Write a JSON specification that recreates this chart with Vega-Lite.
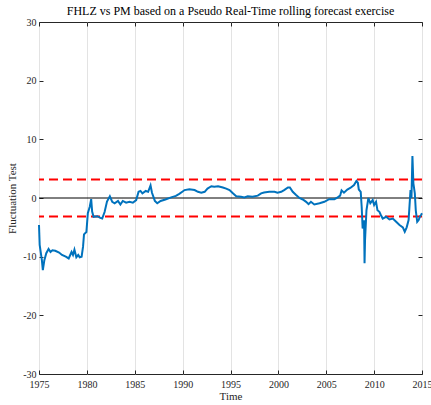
{
  "$schema": "https://vega.github.io/schema/vega-lite/v6.json",
  "width": 383,
  "height": 352,
  "autosize": "none",
  "padding": {"left": 39, "top": 22, "right": 9, "bottom": 31},
  "background": "white",
  "title": {"text": "FHLZ vs PM based on a Pseudo Real-Time rolling forecast exercise", "font": "Liberation Serif", "fontSize": 12, "fontWeight": "normal", "color": "#000000", "offset": 0, "dy": 1},
  "config": {
    "view": {"stroke": "#262626", "strokeWidth": 1},
    "axis": {
      "domainColor": "#262626", "domainWidth": 1,
      "tickColor": "#262626", "tickSize": -4,
      "gridColor": "#e3e3e3", "gridOpacity": 1, "gridWidth": 1,
      "labelFlush": false, "labelOverlap": false,
      "labelFont": "Liberation Serif", "labelFontSize": 10, "labelColor": "#262626",
      "titleFont": "Liberation Serif", "titleFontSize": 11, "titleFontWeight": "normal", "titleColor": "#262626"
    }
  },
  "datasets": {
    "series": [
      {"year": 1975.0, "val": -4.6}, {"year": 1975.07, "val": -8.0}, {"year": 1975.3, "val": -10.6}, {"year": 1975.4, "val": -12.3},
      {"year": 1975.56, "val": -10.6}, {"year": 1975.76, "val": -9.4}, {"year": 1976.0, "val": -8.7}, {"year": 1976.2, "val": -9.2},
      {"year": 1976.4, "val": -8.9}, {"year": 1976.7, "val": -9.0}, {"year": 1977.1, "val": -9.3}, {"year": 1977.4, "val": -9.7},
      {"year": 1977.8, "val": -10.0}, {"year": 1978.1, "val": -10.3}, {"year": 1978.4, "val": -9.2}, {"year": 1978.55, "val": -9.7},
      {"year": 1978.7, "val": -8.8}, {"year": 1978.9, "val": -10.1}, {"year": 1979.1, "val": -9.7}, {"year": 1979.25, "val": -10.1},
      {"year": 1979.45, "val": -10.0}, {"year": 1979.6, "val": -8.3}, {"year": 1979.7, "val": -6.2}, {"year": 1979.95, "val": -5.8},
      {"year": 1980.1, "val": -2.6}, {"year": 1980.3, "val": -1.5}, {"year": 1980.45, "val": -0.2}, {"year": 1980.55, "val": -2.3},
      {"year": 1980.7, "val": -3.2}, {"year": 1981.1, "val": -3.1}, {"year": 1981.4, "val": -3.4}, {"year": 1981.6, "val": -3.5},
      {"year": 1981.85, "val": -2.4}, {"year": 1982.1, "val": -0.6}, {"year": 1982.4, "val": 0.3}, {"year": 1982.65, "val": -0.65},
      {"year": 1982.9, "val": -0.9}, {"year": 1983.25, "val": -0.5}, {"year": 1983.5, "val": -1.1}, {"year": 1983.75, "val": -0.5},
      {"year": 1984.1, "val": -0.8}, {"year": 1984.45, "val": -0.65}, {"year": 1984.8, "val": -0.8}, {"year": 1985.15, "val": -0.35},
      {"year": 1985.4, "val": 1.05}, {"year": 1985.6, "val": 1.2}, {"year": 1985.8, "val": 0.8}, {"year": 1986.15, "val": 1.2},
      {"year": 1986.4, "val": 1.05}, {"year": 1986.65, "val": 2.15}, {"year": 1986.8, "val": 0.9}, {"year": 1987.1, "val": -0.5},
      {"year": 1987.35, "val": -0.9}, {"year": 1987.7, "val": -0.5}, {"year": 1988.2, "val": -0.25}, {"year": 1988.8, "val": 0.1},
      {"year": 1989.3, "val": 0.35}, {"year": 1989.65, "val": 0.7}, {"year": 1990.0, "val": 1.1}, {"year": 1990.2, "val": 1.35},
      {"year": 1990.7, "val": 1.5}, {"year": 1991.25, "val": 1.35}, {"year": 1991.6, "val": 1.05}, {"year": 1991.95, "val": 0.9},
      {"year": 1992.3, "val": 1.05}, {"year": 1992.6, "val": 1.6}, {"year": 1993.0, "val": 2.0}, {"year": 1993.3, "val": 1.9},
      {"year": 1993.7, "val": 2.0}, {"year": 1994.2, "val": 1.8}, {"year": 1994.55, "val": 1.6}, {"year": 1994.9, "val": 1.35},
      {"year": 1995.25, "val": 0.8}, {"year": 1995.6, "val": 0.3}, {"year": 1996.1, "val": 0.2}, {"year": 1996.45, "val": 0.1},
      {"year": 1996.8, "val": 0.3}, {"year": 1997.3, "val": 0.2}, {"year": 1997.85, "val": 0.4}, {"year": 1998.2, "val": 0.8},
      {"year": 1998.5, "val": 0.95}, {"year": 1999.05, "val": 1.05}, {"year": 1999.6, "val": 1.05}, {"year": 1999.9, "val": 0.9},
      {"year": 2000.3, "val": 1.05}, {"year": 2000.6, "val": 1.35}, {"year": 2001.0, "val": 1.8}, {"year": 2001.2, "val": 1.8},
      {"year": 2001.5, "val": 1.05}, {"year": 2001.85, "val": 0.5}, {"year": 2002.2, "val": 0.0}, {"year": 2002.55, "val": -0.25},
      {"year": 2002.9, "val": -0.65}, {"year": 2003.15, "val": -1.05}, {"year": 2003.4, "val": -0.65}, {"year": 2003.75, "val": -1.1},
      {"year": 2004.3, "val": -0.9}, {"year": 2004.8, "val": -0.65}, {"year": 2005.3, "val": -0.2}, {"year": 2005.85, "val": -0.2},
      {"year": 2006.2, "val": 0.1}, {"year": 2006.45, "val": 0.4}, {"year": 2006.6, "val": 1.3}, {"year": 2006.85, "val": 0.9},
      {"year": 2007.2, "val": 1.45}, {"year": 2007.55, "val": 1.75}, {"year": 2007.9, "val": 2.2}, {"year": 2008.15, "val": 2.9},
      {"year": 2008.3, "val": 2.6}, {"year": 2008.4, "val": 1.45}, {"year": 2008.6, "val": 1.05}, {"year": 2008.7, "val": -1.5},
      {"year": 2008.8, "val": -5.2}, {"year": 2008.95, "val": -3.8}, {"year": 2009.0, "val": -11.1}, {"year": 2009.05, "val": -7.2},
      {"year": 2009.2, "val": -2.1}, {"year": 2009.4, "val": 0.0}, {"year": 2009.6, "val": -0.9}, {"year": 2009.85, "val": -0.35},
      {"year": 2010.0, "val": -1.2}, {"year": 2010.2, "val": -0.65}, {"year": 2010.35, "val": -2.1}, {"year": 2010.55, "val": -2.35},
      {"year": 2010.7, "val": -2.9}, {"year": 2010.9, "val": -3.5}, {"year": 2011.25, "val": -3.2}, {"year": 2011.6, "val": -3.65},
      {"year": 2011.95, "val": -3.5}, {"year": 2012.3, "val": -4.05}, {"year": 2012.65, "val": -4.6}, {"year": 2013.0, "val": -5.0},
      {"year": 2013.2, "val": -5.75}, {"year": 2013.4, "val": -5.0}, {"year": 2013.6, "val": -3.75}, {"year": 2013.8, "val": 1.35},
      {"year": 2013.9, "val": 0.0}, {"year": 2014.0, "val": 7.15}, {"year": 2014.1, "val": 2.5}, {"year": 2014.25, "val": 0.8},
      {"year": 2014.35, "val": -2.1}, {"year": 2014.5, "val": -4.05}, {"year": 2014.65, "val": -3.75}, {"year": 2014.8, "val": -3.1},
      {"year": 2014.9, "val": -2.9}, {"year": 2015.0, "val": -2.6}
    ],
    "bands": [{"cv": 3.15}, {"cv": -3.15}],
    "zero": [{"z": 0}]
  },
  "resolve": {"axis": {"x": "independent", "y": "independent"}},
  "layer": [
    {
      "data": {"name": "zero"},
      "mark": {"type": "rule", "color": "#000000", "strokeWidth": 1},
      "encoding": {
        "y": {"field": "z", "type": "quantitative", "scale": {"domain": [-30, 30], "nice": false},
          "axis": {"orient": "right", "labels": false, "title": null, "grid": false, "domain": false, "values": [-30, -20, -10, 0, 10, 20, 30]}}
      }
    },
    {
      "data": {"name": "bands"},
      "mark": {"type": "rule", "color": "#FF0000", "strokeWidth": 2, "strokeDash": [9, 5]},
      "encoding": {
        "y": {"field": "cv", "type": "quantitative", "scale": {"domain": [-30, 30], "nice": false}, "axis": null}
      }
    },
    {
      "data": {"name": "series"},
      "mark": {"type": "line", "color": "#0072BD", "strokeWidth": 2},
      "encoding": {
        "x": {"field": "year", "type": "quantitative", "scale": {"domain": [1975, 2015], "nice": false, "zero": false},
          "axis": {"title": "Time", "format": "d", "values": [1975, 1980, 1985, 1990, 1995, 2000, 2005, 2010, 2015], "labelPadding": 9, "titlePadding": 1, "domain": false}},
        "y": {"field": "val", "type": "quantitative", "scale": {"domain": [-30, 30], "nice": false, "zero": false},
          "axis": {"title": "Fluctuation Test", "values": [-30, -20, -10, 0, 10, 20, 30], "labelExpr": "replace(datum.label, '\u2212', '-')", "labelPadding": 7, "titlePadding": 5, "domain": false}}
      }
    },
    {
      "data": {"name": "zero"},
      "mark": {"type": "point", "opacity": 0},
      "encoding": {
        "x": {"datum": 1975, "type": "quantitative", "scale": {"domain": [1975, 2015], "nice": false, "zero": false},
          "axis": {"orient": "top", "labels": false, "title": null, "grid": false, "domain": false, "values": [1975, 1980, 1985, 1990, 1995, 2000, 2005, 2010, 2015]}}
      }
    }
  ]
}
